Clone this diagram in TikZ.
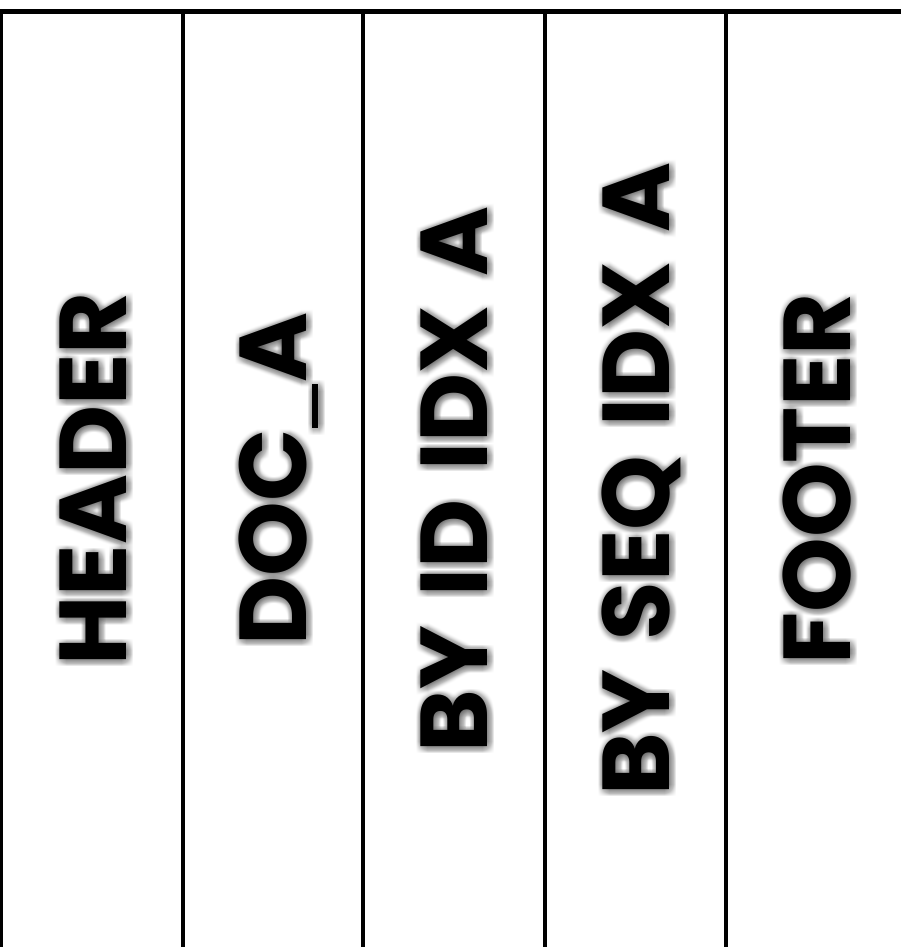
\documentclass[tikz,border=0pt]{standalone}
\usepackage{fontspec}
\setmainfont{Poppins}[WordSpace=1.45]
\usetikzlibrary{positioning}
\newcommand{\lowbar}{\kern1pt\rule[-11pt]{44pt}{6pt}\kern1pt}
\tikzset{
  rule/.style={draw, line width=4pt},
  toprule/.style={draw, line width=5pt},
  colname/.style={rotate=90, anchor=base, inner sep=0pt,
    font=\fontsize{95}{95}\selectfont\bfseries},
  colshadow/.style={colname, text=black, opacity=0.008}
}
\begin{document}
\begin{tikzpicture}[x=1pt, y=-1pt]
    \useasboundingbox (0,0) rectangle (901,947);
    \clip (0,0) rectangle (901,947);
    % column rules
    \draw[toprule] (0,11.5) -- (901,11.5);
    \draw[rule] (1,10) -- (1,947);
    \draw[rule] (182.5,10) -- (182.5,947);
    \draw[rule] (363,10) -- (363,947);
    \draw[rule] (545,10) -- (545,947);
    \draw[rule] (726,10) -- (726,947);
    % soft shadows behind the names
    \foreach \name/\cx/\txt in {hdr/126/HEADER, doc/306.5/DOC\lowbar A, byid/487.5/BY ID IDX A,
                                byseq/669/BY SEQ IDX A, ftr/850/FOOTER}
      \foreach \dx in {-4,...,7}
        \foreach \dy in {-4,...,7}
          \node[colshadow] (\name-s-\dx-\dy) at (\cx+\dx,479+\dy) {\txt};
    % column names
    \node[colname] (hdr) at (126,479) {HEADER};
    \node[colname] (doc) at (306.5,479) {DOC\lowbar A};
    \node[colname] (byid) at (487.5,479) {BY ID IDX A};
    \node[colname] (byseq) at (669,479) {BY SEQ IDX A};
    \node[colname] (ftr) at (850,479) {FOOTER};
  \end{tikzpicture}
\end{document}
